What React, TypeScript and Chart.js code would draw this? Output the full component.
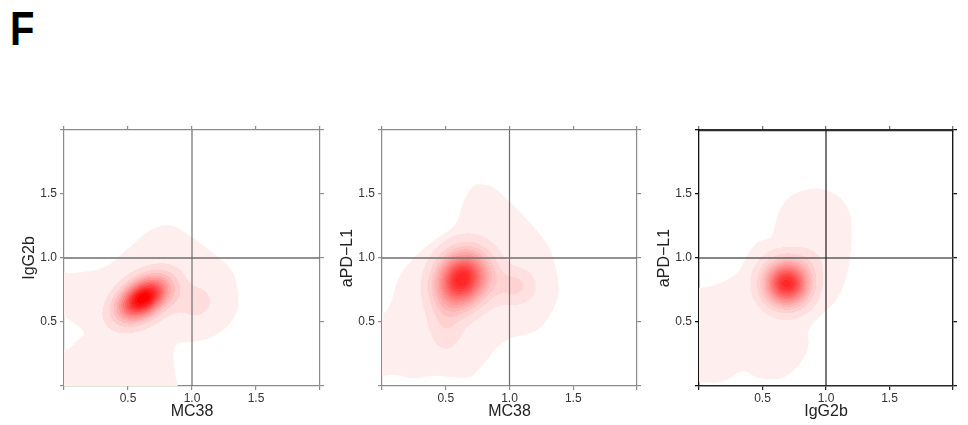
import React, { useEffect, useRef } from 'react';
import { Chart, registerables } from 'chart.js';

Chart.register(...registerables);

// ---------- axes, labels ----------
const AXIS_MIN = 0;
const AXIS_MAX = 2;
const TICK_STEP = 0.5;
const tickLabels = ['0.5', '1.0', '1.5'];
const xTitles = ['MC38', 'MC38', 'IgG2b'];
const yTitles = ['IgG2b', 'aPD\u2212L1', 'aPD\u2212L1'];
const crossX = [1.0, 1.0, 1.0];
const crossY = [1.0, 1.0, 1.0];
const panelLetter = 'F';

// ---------- outermost density contour (outline) ----------
const p1OutX = [-0.05, 0.4, 0.87, 0.857, 0.86, 0.9, 1.01, 1.15, 1.27, 1.345, 1.363, 1.35, 1.324, 1.26, 1.168, 1.06, 0.96, 0.88, 0.805, 0.74, 0.674, 0.61, 0.544, 0.45, 0.363, 0.26, 0.155, 0.05, -0.05, -0.05, 0.0, 0.08, 0.155, 0.1, 0.03, -0.05, -0.05];
const p1OutY = [-0.05, -0.05, -0.05, 0.15, 0.29, 0.335, 0.345, 0.38, 0.46, 0.57, 0.67, 0.78, 0.879, 0.96, 1.035, 1.12, 1.19, 1.24, 1.255, 1.245, 1.216, 1.17, 1.112, 1.03, 0.956, 0.91, 0.893, 0.882, 0.88, 0.55, 0.545, 0.49, 0.415, 0.35, 0.29, 0.28, -0.05];

const p2OutX = [-0.05, 0.1, 0.25, 0.4, 0.55, 0.693, 0.76, 0.822, 0.9, 1.006, 1.12, 1.215, 1.31, 1.372, 1.385, 1.36, 1.32, 1.25, 1.163, 1.07, 0.98, 0.89, 0.797, 0.72, 0.67, 0.627, 0.6, 0.562, 0.47, 0.379, 0.27, 0.17, 0.11, 0.078, 0.03, -0.05, -0.05];
const p2OutY = [0.07, 0.085, 0.06, 0.08, 0.07, 0.071, 0.13, 0.201, 0.3, 0.372, 0.4, 0.437, 0.54, 0.672, 0.777, 0.93, 1.064, 1.17, 1.273, 1.37, 1.457, 1.54, 1.574, 1.565, 1.5, 1.404, 1.31, 1.247, 1.18, 1.116, 1.02, 0.908, 0.79, 0.672, 0.58, 0.52, 0.07];

const p3OutX = [-0.05, 0.06, 0.137, 0.22, 0.347, 0.45, 0.583, 0.68, 0.767, 0.835, 0.862, 0.857, 0.9, 0.977, 1.07, 1.134, 1.18, 1.2, 1.2, 1.187, 1.13, 1.056, 0.96, 0.872, 0.77, 0.69, 0.64, 0.61, 0.59, 0.57, 0.52, 0.45, 0.38, 0.32, 0.27, 0.216, 0.14, 0.058, -0.05, -0.05];
const p3OutY = [0.03, 0.03, 0.026, 0.05, 0.118, 0.07, 0.052, 0.075, 0.144, 0.24, 0.33, 0.42, 0.49, 0.567, 0.66, 0.774, 0.95, 1.116, 1.25, 1.352, 1.45, 1.509, 1.54, 1.54, 1.51, 1.457, 1.38, 1.3, 1.22, 1.165, 1.145, 1.116, 1.02, 0.906, 0.86, 0.827, 0.795, 0.774, 0.74, 0.03];

// ---------- inner density peaks (centre, spread, tilt, height in contour steps) ----------
const LEVELS = 15;
const BASE_LEVEL = 1.5;
const GRID = 256;

const p1PkX = [0.617, 1.03, 0.84];
const p1PkY = [0.684, 0.66, 0.72];
const p1PkSX = [0.122, 0.095, 0.09];
const p1PkSY = [0.105, 0.09, 0.1];
const p1PkR = [0.42, 0, 0];
const p1PkW = [14.5, 0.95, 0.65];

const p2PkX = [0.627, 1.05, 0.5, 0.86];
const p2PkY = [0.834, 0.78, 0.5, 0.83];
const p2PkSX = [0.124, 0.1, 0.09, 0.1];
const p2PkSY = [0.138, 0.09, 0.15, 0.12];
const p2PkR = [0.15, 0, 0, 0];
const p2PkW = [14.5, 1.7, 1.3, 0.9];

const p3PkX = [0.688, 0.86];
const p3PkY = [0.8, 0.97];
const p3PkSX = [0.11, 0.09];
const p3PkSY = [0.11, 0.09];
const p3PkR = [0, 0];
const p3PkW = [14, 0.6];

type Peaks = { x: number[]; y: number[]; sx: number[]; sy: number[]; r: number[]; w: number[] };

const outlines = [
  { x: p1OutX, y: p1OutY },
  { x: p2OutX, y: p2OutY },
  { x: p3OutX, y: p3OutY },
];
const peaks: Peaks[] = [
  { x: p1PkX, y: p1PkY, sx: p1PkSX, sy: p1PkSY, r: p1PkR, w: p1PkW },
  { x: p2PkX, y: p2PkY, sx: p2PkSX, sy: p2PkSY, r: p2PkR, w: p2PkW },
  { x: p3PkX, y: p3PkY, sx: p3PkSX, sy: p3PkSY, r: p3PkR, w: p3PkW },
];

// ---------- layout / style (not data) ----------
const FRAME_LEFT = [64, 382, 699];
const PLOT_W = [256, 255, 254];
const PLOT_TOP = 130;
const PLOT_H = 256;
const Y_AXIS_W = 64;
const X_AXIS_H = 39;
const RIGHT_PAD = 8;
// per panel: [bottom, top, left, right] frame colours / widths
const FRAME_COLOR = [
  ['#8c8c8c', '#8c8c8c', '#8c8c8c', '#8c8c8c'],
  ['#8c8c8c', '#8c8c8c', '#8c8c8c', '#8c8c8c'],
  ['#2a2a2a', '#2e2e2e', '#111111', '#1a1a1a'],
];
const FRAME_W = [
  [1.2, 1.2, 1.2, 1.2],
  [1.2, 1.2, 1.2, 1.2],
  [1.6, 2.2, 1.3, 1.4],
];
const VLINE_COLOR = ['#6e6e6e', '#6e6e6e', '#1e1e1e'];
const HLINE_COLOR = ['#6e6e6e', '#6e6e6e', '#5e5e5e'];
const FONT = "'Liberation Sans', Arial, Helvetica, sans-serif";

function peakSum(b: Peaks, x: number, y: number) {
  let s = 0;
  for (let i = 0; i < b.x.length; i++) {
    const zx = (x - b.x[i]) / b.sx[i];
    const zy = (y - b.y[i]) / b.sy[i];
    const rho = b.r[i];
    const q = (zx * zx - 2 * rho * zx * zy + zy * zy) / (1 - rho * rho);
    s += b.w[i] * Math.exp(-0.5 * q);
  }
  return s;
}

function buildLevels(idx: number) {
  const pk = peaks[idx];
  const out: { x: number; y: number }[][] = [];
  for (let k = 0; k < LEVELS; k++) out.push([]);
  const step = (AXIS_MAX - AXIS_MIN) / GRID;
  for (let i = 0; i < GRID; i++) {
    const x = AXIS_MIN + (i + 0.5) * step;
    for (let j = 0; j < GRID; j++) {
      const y = AXIS_MIN + (j + 0.5) * step;
      const f = BASE_LEVEL + peakSum(pk, x, y);
      const k = Math.min(LEVELS, Math.floor(f));
      if (k >= 2) out[k - 1].push({ x, y });
    }
  }
  return out;
}

function levelColor(k: number) {
  const a = k / LEVELS;
  const c = Math.round(255 * (1 - a));
  return `rgb(255,${c},${c})`;
}

function tickText(v: number) {
  const t = v.toFixed(1);
  return tickLabels.includes(t) ? t : '';
}

function Panel({ idx }: { idx: number }) {
  const ref = useRef<HTMLCanvasElement>(null);
  const W = Y_AXIS_W + PLOT_W[idx] + RIGHT_PAD;
  const H = (PLOT_TOP - 100) + PLOT_H + X_AXIS_H;
  useEffect(() => {
    if (!ref.current) return;
    const levels = buildLevels(idx);
    const cellR = 0.78 * (PLOT_W[idx] / GRID);
    const ol = outlines[idx];
    const datasets: any[] = [
      {
        type: 'scatter',
        data: [
          { x: crossX[idx], y: AXIS_MIN },
          { x: crossX[idx], y: AXIS_MAX },
        ],
        showLine: true,
        borderColor: VLINE_COLOR[idx],
        borderWidth: 1.2,
        pointRadius: 0,
        order: 0,
      },
      {
        type: 'scatter',
        data: [
          { x: AXIS_MIN, y: crossY[idx] },
          { x: AXIS_MAX, y: crossY[idx] },
        ],
        showLine: true,
        borderColor: HLINE_COLOR[idx],
        borderWidth: 1.3,
        pointRadius: 0,
        order: 0,
      },
      {
        type: 'line',
        data: ol.x.map((x, i) => ({ x, y: ol.y[i] })),
        fill: 'shape',
        backgroundColor: levelColor(1),
        borderColor: levelColor(1),
        borderWidth: 0,
        pointRadius: 0,
        tension: 0.35,
        order: 100,
      },
    ];
    levels.forEach((pts, k) => {
      if (!pts.length) return;
      datasets.push({
        type: 'scatter',
        data: pts,
        pointStyle: 'rect',
        pointRadius: cellR,
        pointHoverRadius: cellR,
        backgroundColor: levelColor(k + 1),
        borderWidth: 0,
        order: 10 + LEVELS - k,
      });
    });
    const fc = FRAME_COLOR[idx];
    const fw = FRAME_W[idx];
    const tickFont = { family: FONT, size: 12 };
    const titleFont = { family: FONT, size: 16 };
    const axisBase = (side: number) => ({
      type: 'linear' as const,
      min: AXIS_MIN,
      max: AXIS_MAX,
      z: 1,
      border: { display: true, color: fc[side], width: fw[side] },
      grid: { drawOnChartArea: false, drawTicks: true, tickLength: 4, color: idx === 2 && side === 1 ? '#777' : fc[side], lineWidth: Math.min(1.3, fw[side]) },
    });
    const chart = new Chart(ref.current, {
      type: 'scatter',
      data: { datasets },
      options: {
        animation: false,
        responsive: false,
        devicePixelRatio: 1,
        events: [],
        layout: { padding: { top: PLOT_TOP - 100, right: RIGHT_PAD, left: 0, bottom: 0 } },
        plugins: { legend: { display: false }, tooltip: { enabled: false } },
        scales: {
          x: {
            ...axisBase(0),
            position: 'bottom',
            ticks: { stepSize: TICK_STEP, callback: (v: any) => tickText(Number(v)), color: '#333', font: tickFont, padding: 1, maxRotation: 0, autoSkip: false },
            title: { display: true, text: xTitles[idx], color: '#222', font: titleFont },
            afterFit: (s: any) => { s.height = X_AXIS_H; },
          },
          x2: {
            ...axisBase(1),
            position: 'top',
            ticks: { stepSize: TICK_STEP, display: false },
            afterFit: (s: any) => { s.height = 0; },
          },
          y: {
            ...axisBase(2),
            position: 'left',
            ticks: { stepSize: TICK_STEP, callback: (v: any) => tickText(Number(v)), color: '#333', font: tickFont, padding: 3, autoSkip: false },
            title: { display: true, text: yTitles[idx], color: '#222', font: titleFont, padding: { top: 20, bottom: 4 } },
            afterFit: (s: any) => { s.width = Y_AXIS_W; },
          },
          y2: {
            ...axisBase(3),
            position: 'right',
            ticks: { stepSize: TICK_STEP, display: false },
            afterFit: (s: any) => { s.width = 0; },
          },
        },
      } as any,
    });
    return () => chart.destroy();
  }, [idx]);
  return (
    <canvas
      ref={ref}
      width={W}
      height={H}
      style={{ position: 'absolute', left: FRAME_LEFT[idx] - Y_AXIS_W, top: 100, width: W, height: H, display: 'block' }}
    />
  );
}

export default function App() {
  return (
    <div style={{ position: 'fixed', left: 0, top: 0, width: 968, height: 425, background: '#fff', overflow: 'hidden' }}>
      <div
        style={{
          position: 'absolute',
          left: 10,
          top: 4,
          fontFamily: FONT,
          fontWeight: 700,
          fontSize: 40,
          lineHeight: '40px',
          color: '#000',
          transform: 'scale(1, 1.22)',
          transformOrigin: 'left top',
        }}
      >
        {panelLetter}
      </div>
      <Panel idx={0} />
      <Panel idx={1} />
      <Panel idx={2} />
    </div>
  );
}
